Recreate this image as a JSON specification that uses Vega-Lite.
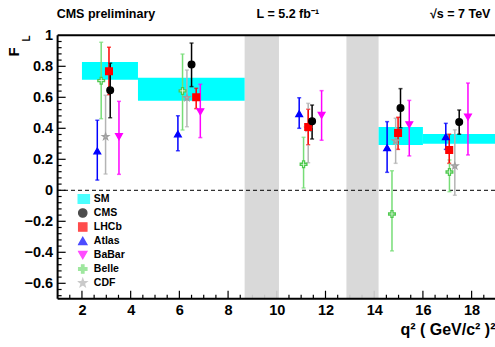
{
  "$schema": "https://vega.github.io/schema/vega-lite/v6.json",
  "width": 437.4,
  "height": 263.5,
  "autosize": "none",
  "padding": {"left": 57.6, "top": 35.3, "right": 0, "bottom": 48.2},
  "background": "white",
  "config": {"view": {"stroke": null}, "font": "Liberation Sans"},
  "resolve": {"axis": {"x": "independent", "y": "independent"}},
  "datasets": {
    "pts": [
      {"exp": "CDF", "q": 2.97, "v": 0.346, "lo": 0.105, "hi": 0.613},
      {"exp": "Belle", "q": 2.79, "v": 0.707, "lo": 0.462, "hi": 0.955},
      {"exp": "Atlas", "q": 2.63, "v": 0.254, "lo": 0.066, "hi": 0.452},
      {"exp": "BaBar", "q": 3.52, "v": 0.346, "lo": 0.103, "hi": 0.574},
      {"exp": "LHCb", "q": 3.11, "v": 0.768, "lo": 0.617, "hi": 0.923},
      {"exp": "CMS", "q": 3.16, "v": 0.645, "lo": 0.468, "hi": 0.82},
      {"exp": "CDF", "q": 6.31, "v": 0.597, "lo": 0.41, "hi": 0.776},
      {"exp": "Belle", "q": 6.13, "v": 0.641, "lo": 0.389, "hi": 0.879},
      {"exp": "Atlas", "q": 5.94, "v": 0.364, "lo": 0.255, "hi": 0.481},
      {"exp": "BaBar", "q": 6.86, "v": 0.507, "lo": 0.34, "hi": 0.684},
      {"exp": "LHCb", "q": 6.69, "v": 0.6, "lo": 0.527, "hi": 0.658},
      {"exp": "CMS", "q": 6.5, "v": 0.811, "lo": 0.669, "hi": 0.95},
      {"exp": "CDF", "q": 11.29, "v": 0.4, "lo": 0.178, "hi": 0.561},
      {"exp": "Belle", "q": 11.1, "v": 0.168, "lo": 0.015, "hi": 0.342},
      {"exp": "Atlas", "q": 10.92, "v": 0.494, "lo": 0.4, "hi": 0.597},
      {"exp": "BaBar", "q": 11.84, "v": 0.484, "lo": 0.323, "hi": 0.643},
      {"exp": "LHCb", "q": 11.29, "v": 0.408, "lo": 0.294, "hi": 0.523},
      {"exp": "CMS", "q": 11.45, "v": 0.445, "lo": 0.331, "hi": 0.55},
      {"exp": "CDF", "q": 14.88, "v": 0.318, "lo": 0.174, "hi": 0.465},
      {"exp": "Belle", "q": 14.73, "v": -0.153, "lo": -0.391, "hi": 0.126},
      {"exp": "Atlas", "q": 14.53, "v": 0.275, "lo": 0.116, "hi": 0.443},
      {"exp": "BaBar", "q": 15.44, "v": 0.423, "lo": 0.222, "hi": 0.58},
      {"exp": "LHCb", "q": 14.98, "v": 0.37, "lo": 0.264, "hi": 0.471},
      {"exp": "CMS", "q": 15.08, "v": 0.531, "lo": 0.403, "hi": 0.656},
      {"exp": "CDF", "q": 17.31, "v": 0.157, "lo": -0.032, "hi": 0.39},
      {"exp": "Belle", "q": 17.09, "v": 0.118, "lo": -0.009, "hi": 0.196},
      {"exp": "Atlas", "q": 16.94, "v": 0.346, "lo": 0.264, "hi": 0.432},
      {"exp": "BaBar", "q": 17.85, "v": 0.473, "lo": 0.228, "hi": 0.692},
      {"exp": "LHCb", "q": 17.08, "v": 0.26, "lo": 0.174, "hi": 0.362},
      {"exp": "CMS", "q": 17.49, "v": 0.44, "lo": 0.362, "hi": 0.518}
    ],
    "sm": [
      {"q": 2, "q2": 4.3, "lo": 0.714, "hi": 0.828},
      {"q": 4.3, "q2": 8.68, "lo": 0.578, "hi": 0.726},
      {"q": 14.18, "q2": 16, "lo": 0.292, "hi": 0.408},
      {"q": 16, "q2": 19, "lo": 0.301, "hi": 0.363}
    ],
    "veto": [
      {"q": 8.68, "q2": 10.09},
      {"q": 12.86, "q2": 14.18}
    ],
    "xmaj": [{"t": 2}, {"t": 4}, {"t": 6}, {"t": 8}, {"t": 10}, {"t": 12}, {"t": 14}, {"t": 16}, {"t": 18}],
    "xmin": [{"t": 1.5}, {"t": 2.5}, {"t": 3}, {"t": 3.5}, {"t": 4.5}, {"t": 5}, {"t": 5.5}, {"t": 6.5}, {"t": 7}, {"t": 7.5}, {"t": 8.5}, {"t": 9}, {"t": 9.5}, {"t": 10.5}, {"t": 11}, {"t": 11.5}, {"t": 12.5}, {"t": 13}, {"t": 13.5}, {"t": 14.5}, {"t": 15}, {"t": 15.5}, {"t": 16.5}, {"t": 17}, {"t": 17.5}, {"t": 18.5}],
    "ymaj": [{"t": -0.6}, {"t": -0.4}, {"t": -0.2}, {"t": 0}, {"t": 0.2}, {"t": 0.4}, {"t": 0.6}, {"t": 0.8}],
    "ymin": [{"t": -0.68}, {"t": -0.64}, {"t": -0.56}, {"t": -0.52}, {"t": -0.48}, {"t": -0.44}, {"t": -0.36}, {"t": -0.32}, {"t": -0.28}, {"t": -0.24}, {"t": -0.16}, {"t": -0.12}, {"t": -0.08}, {"t": -0.04}, {"t": 0.04}, {"t": 0.08}, {"t": 0.12}, {"t": 0.16}, {"t": 0.24}, {"t": 0.28}, {"t": 0.32}, {"t": 0.36}, {"t": 0.44}, {"t": 0.48}, {"t": 0.52}, {"t": 0.56}, {"t": 0.64}, {"t": 0.68}, {"t": 0.72}, {"t": 0.76}, {"t": 0.84}, {"t": 0.88}, {"t": 0.92}, {"t": 0.96}]
  },
  "layer": [
    {
      "data": {"name": "xmaj"},
      "mark": {"type": "rule", "color": "black", "strokeWidth": 1.2},
      "encoding": {"x": {"field": "t", "type": "quantitative", "axis": null}, "y": {"datum": -0.7, "axis": null}, "y2": {"datum": -0.648}}
    },
    {
      "data": {"name": "xmin"},
      "mark": {"type": "rule", "color": "black", "strokeWidth": 1.2},
      "encoding": {"x": {"field": "t", "type": "quantitative", "axis": null}, "y": {"datum": -0.7, "axis": null}, "y2": {"datum": -0.674}}
    },
    {
      "data": {"name": "ymaj"},
      "mark": {"type": "rule", "color": "black", "strokeWidth": 1.2},
      "encoding": {"y": {"field": "t", "type": "quantitative", "axis": null}, "x": {"datum": 1, "axis": null}, "x2": {"datum": 1.33}}
    },
    {
      "data": {"name": "ymin"},
      "mark": {"type": "rule", "color": "black", "strokeWidth": 1.2},
      "encoding": {"y": {"field": "t", "type": "quantitative", "axis": null}, "x": {"datum": 1, "axis": null}, "x2": {"datum": 1.165}}
    },
    {
      "data": {"name": "veto"},
      "mark": {"type": "rect", "fill": "#d6d6d6", "opacity": 0.92},
      "encoding": {
        "x": {"field": "q", "type": "quantitative", "axis": null},
        "x2": {"field": "q2"}
      }
    },
    {
      "data": {"name": "sm"},
      "mark": {"type": "rect", "fill": "#00ffff", "clip": true},
      "encoding": {
        "x": {"field": "q", "type": "quantitative", "axis": null},
        "x2": {"field": "q2"},
        "y": {"field": "lo", "type": "quantitative", "axis": null},
        "y2": {"field": "hi"}
      }
    },
    {
      "data": {"values": [{}]},
      "mark": {"type": "rule", "color": "black", "strokeWidth": 1, "strokeDash": [4, 3]},
      "encoding": {"y": {"datum": 0, "axis": null}}
    },
    {
      "data": {"values": [{}]},
      "mark": {"type": "rule", "color": "black", "strokeWidth": 2},
      "encoding": {"y": {"datum": 1.0, "axis": null}}
    },
    {
      "data": {"values": [{}]},
      "mark": {"type": "rule", "color": "black", "strokeWidth": 2},
      "encoding": {"y": {"datum": -0.7, "axis": null}}
    },
    {
      "data": {"values": [{}]},
      "mark": {"type": "rule", "color": "black", "strokeWidth": 2},
      "encoding": {"x": {"datum": 1, "axis": null}}
    },
    {
      "data": {"name": "pts"},
      "mark": {"type": "errorbar", "ticks": {"size": 4}, "thickness": 1.5},
      "encoding": {
        "x": {"field": "q", "type": "quantitative", "axis": null},
        "y": {"field": "lo", "type": "quantitative", "axis": null},
        "y2": {"field": "hi"},
        "color": {"field": "exp", "type": "nominal"}
      }
    },
    {
      "data": {"name": "pts"},
      "mark": {"type": "point", "filled": true, "size": 45, "strokeWidth": 1.3, "opacity": 1},
      "encoding": {
        "x": {
          "field": "q", "type": "quantitative",
          "scale": {"domain": [1, 18.96], "nice": false, "zero": false},
          "axis": {
            "orient": "bottom",
            "title": "q² ( GeV/c² )²",
            "values": [2, 4, 6, 8, 10, 12, 14, 16, 18],
            "format": "d",
            "domain": false,
            "ticks": false,
            "tickSize": 0,
            "labelPadding": 5,
            "labelOverlap": false,
            "labelFont": "Liberation Sans", "labelFontWeight": "bold", "labelFontSize": 14.5, "labelColor": "black",
            "grid": false,
            "titleFont": "Liberation Sans", "titleFontSize": 16, "titleFontWeight": "bold", "titleColor": "black",
            "titleAnchor": "end", "titlePadding": 4
          }
        },
        "y": {
          "field": "v", "type": "quantitative",
          "scale": {"domain": [-0.7, 1.0], "nice": false, "zero": false},
          "axis": {
            "orient": "left",
            "title": null,
            "values": [-0.6, -0.4, -0.2, 0, 0.2, 0.4, 0.6, 0.8, 1.0],
            "format": ".1~f",
            "domain": false,
            "ticks": false,
            "tickSize": 0,
            "labelPadding": 5,
            "labelOverlap": false,
            "labelFont": "Liberation Sans", "labelFontWeight": "bold", "labelFontSize": 14.5, "labelColor": "black",
            "grid": false
          }
        },
        "color": {
          "field": "exp", "type": "nominal",
          "condition": {"test": "datum.exp === 'Belle'", "value": "white"},
          "scale": {
            "domain": ["SM", "CMS", "LHCb", "Atlas", "BaBar", "Belle", "CDF"],
            "range": ["#00ffff", "#000000", "#ff0000", "#0000ff", "#ff00ff", "#77dd77", "#b4b4b4"]
          },
          "legend": {
            "title": null,
            "orient": "none",
            "legendX": 19.9,
            "legendY": 156.7,
            "padding": 0,
            "symbolSize": 70,
            "symbolStrokeWidth": 1.3,
            "labelFont": "Liberation Sans",
            "labelFontWeight": "bold",
            "labelFontSize": 10.5,
            "labelColor": "black",
            "labelOffset": 5.8,
            "rowPadding": 0,
            "clipHeight": 14,
            "labelLimit": 0
          }
        },
        "stroke": {
          "field": "exp", "type": "nominal",
          "scale": {
            "domain": ["SM", "CMS", "LHCb", "Atlas", "BaBar", "Belle", "CDF"],
            "range": ["#000000", "#000000", "#ff0000", "#0000ff", "#ff00ff", "#4fc94f", "#a0a0a0"]
          },
          "legend": null
        },
        "shape": {
          "field": "exp", "type": "nominal",
          "scale": {
            "domain": ["SM", "CMS", "LHCb", "Atlas", "BaBar", "Belle", "CDF"],
            "range": ["M-1.6,-1.05H1.6V1.05H-1.6Z", "circle", "square", "triangle-up", "triangle-down", "M-0.3,-1H0.3V-0.3H1V0.3H0.3V1H-0.3V0.3H-1V-0.3H-0.3Z", "M0,-1L0.235,-0.324L0.951,-0.309L0.38,0.124L0.588,0.809L0,0.4L-0.588,0.809L-0.38,0.124L-0.951,-0.309L-0.235,-0.324Z"]
          },
          "legend": null
        }
      }
    },
    {
      "data": {"values": [{}]},
      "mark": {"type": "text", "text": "CMS preliminary", "align": "left", "baseline": "middle", "font": "Liberation Sans", "fontWeight": "bold", "fontSize": 12.5, "color": "black"},
      "encoding": {"x": {"datum": 0.96, "axis": null}, "y": {"datum": 1.137, "axis": null}}
    },
    {
      "data": {"values": [{}]},
      "mark": {"type": "text", "text": "L = 5.2 fb⁻¹", "align": "left", "baseline": "middle", "font": "Liberation Sans", "fontWeight": "bold", "fontSize": 12.5, "color": "black"},
      "encoding": {"x": {"datum": 9.17, "axis": null}, "y": {"datum": 1.137, "axis": null}}
    },
    {
      "data": {"values": [{}]},
      "mark": {"type": "text", "text": "√s = 7 TeV", "align": "left", "baseline": "middle", "font": "Liberation Sans", "fontWeight": "bold", "fontSize": 12.5, "color": "black"},
      "encoding": {"x": {"datum": 16.29, "axis": null}, "y": {"datum": 1.137, "axis": null}}
    },
    {
      "data": {"values": [{}]},
      "mark": {"type": "text", "text": "F", "align": "center", "baseline": "middle", "angle": 270, "font": "Liberation Sans", "fontWeight": "bold", "fontSize": 15, "color": "black"},
      "encoding": {"x": {"datum": -0.81, "axis": null}, "y": {"datum": 0.892, "axis": null}}
    },
    {
      "data": {"values": [{}]},
      "mark": {"type": "text", "text": "L", "align": "center", "baseline": "middle", "angle": 270, "font": "Liberation Sans", "fontWeight": "bold", "fontSize": 10, "color": "black"},
      "encoding": {"x": {"datum": -0.24, "axis": null}, "y": {"datum": 0.979, "axis": null}}
    }
  ]
}
